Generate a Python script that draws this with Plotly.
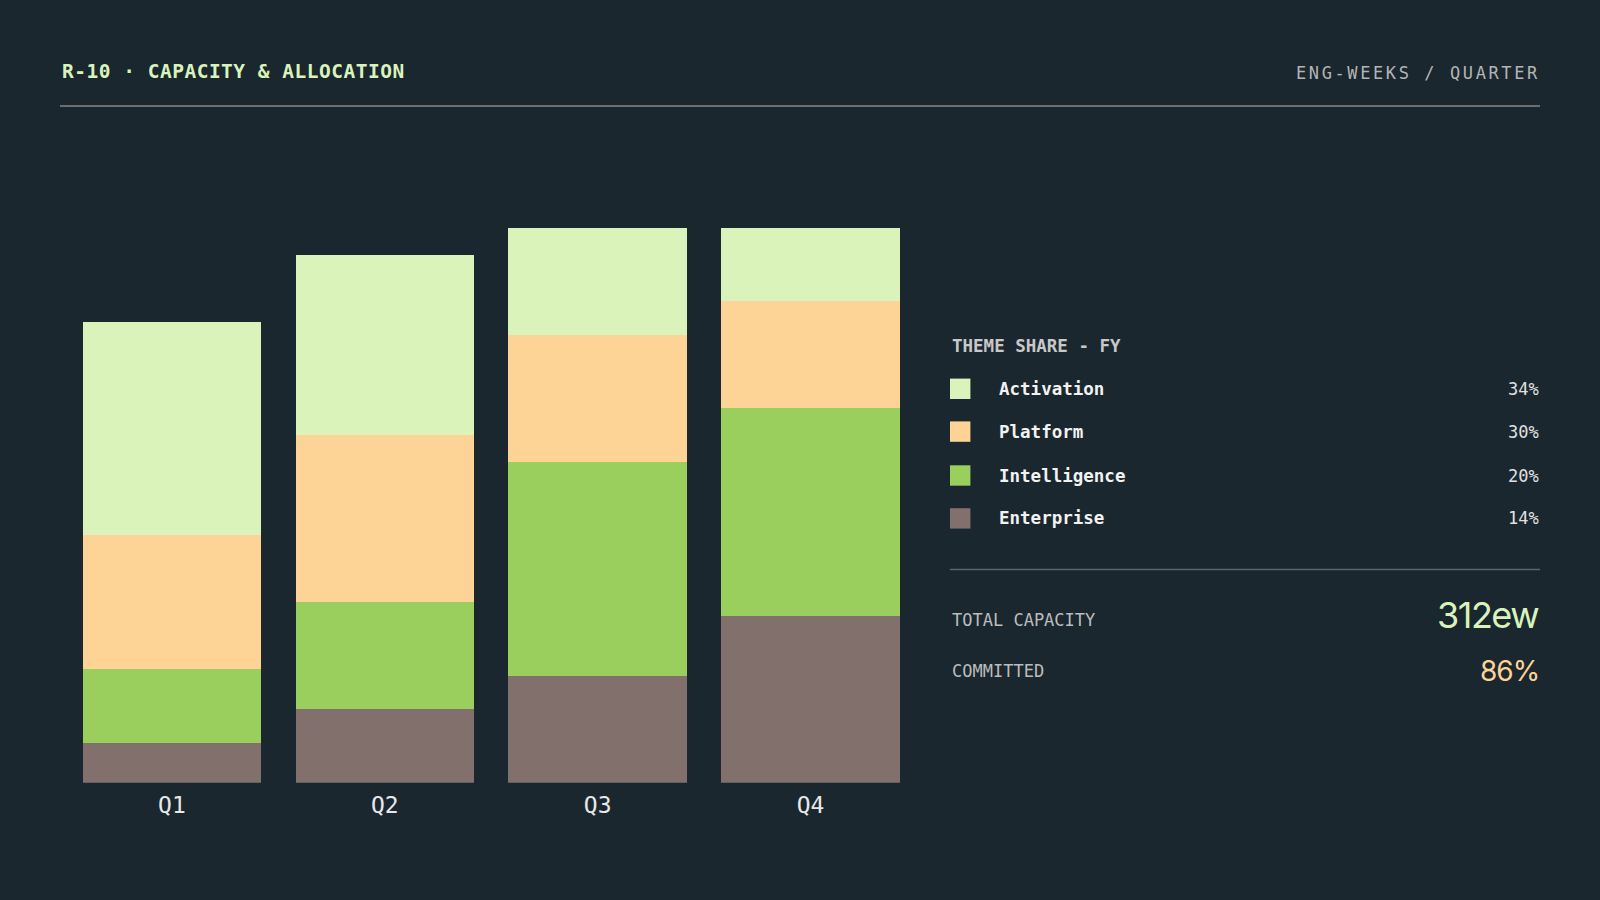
import plotly.graph_objects as go

# data
quarters = ["Q1", "Q2", "Q3", "Q4"]
themes = ["Activation", "Platform", "Intelligence", "Enterprise"]
activation = [32, 27, 16, 11]
platform = [20, 25, 19, 16]
intelligence = [11, 16, 32, 31]
enterprise = [6, 11, 16, 25]
fy_share = [34, 30, 20, 14]
total_capacity = "312ew"
committed = "86%"

colors = {
    "Activation": "#d9f3bb",
    "Platform": "#fed396",
    "Intelligence": "#9bcf5d",
    "Enterprise": "#81706c",
}
series = {
    "Activation": activation,
    "Platform": platform,
    "Intelligence": intelligence,
    "Enterprise": enterprise,
}

W, H = 1600, 900
BG = "#1a272f"
MONO = "DejaVu Sans Mono"


def px(x):
    return x / W


def py(y):
    return 1 - y / H


fig = go.Figure()

# stacked from the bottom up
for name in ["Enterprise", "Intelligence", "Platform", "Activation"]:
    fig.add_trace(go.Bar(
        x=quarters, y=series[name], name=name,
        marker=dict(color=colors[name], line=dict(width=0)),
        hoverinfo="x+y+name",
    ))

fig.update_layout(
    width=W, height=H,
    paper_bgcolor=BG, plot_bgcolor=BG,
    margin=dict(l=0, r=0, t=0, b=0),
    barmode="stack", bargap=0.161,
    showlegend=False,
    xaxis=dict(domain=[px(65.5), px(917)], showgrid=False, zeroline=False,
               showline=False, ticks="", ticklabelstandoff=6,
               tickfont=dict(family=MONO, size=23, color="#e8e8e8")),
    yaxis=dict(domain=[py(782.7), py(114.3)], range=[0, 100], visible=False),
)

shapes = []
ann = []

# header
ann.append(dict(x=px(60), y=py(71.5),
                text='<b><span style="letter-spacing:0.5px">R-10 · CAPACITY & ALLOCATION</span></b>',
                xanchor="left", yanchor="middle",
                font=dict(family=MONO, size=19.5, color="#d9f3bb")))
ann.append(dict(x=px(1542), y=py(72.5),
                text='<span style="letter-spacing:2.6px">ENG-WEEKS / QUARTER</span>',
                xanchor="right", yanchor="middle",
                font=dict(family=MONO, size=17, color="#b4b4b4")))
shapes.append(dict(type="line", x0=px(60), x1=px(1540), y0=py(106), y1=py(106),
                   line=dict(color="#6e6e6e", width=2)))

# side panel legend
ann.append(dict(x=px(950), y=py(346), text="<b>THEME SHARE - FY</b>",
                xanchor="left", yanchor="middle",
                font=dict(family=MONO, size=17.5, color="#c8c8c8")))
row_y = [388.8, 431.6, 475.5, 518.4]
for name, share, yy in zip(themes, fy_share, row_y):
    shapes.append(dict(type="rect", x0=px(950), x1=px(970.4),
                       y0=py(yy - 10.2), y1=py(yy + 10.2),
                       fillcolor=colors[name], line=dict(width=0)))
    ann.append(dict(x=px(997), y=py(yy), text=f"<b>{name}</b>",
                    xanchor="left", yanchor="middle",
                    font=dict(family=MONO, size=17.5, color="#f2f2f2")))
    ann.append(dict(x=px(1541), y=py(yy), text=f"{share}%",
                    xanchor="right", yanchor="middle",
                    font=dict(family=MONO, size=17, color="#e0e0e0")))

shapes.append(dict(type="line", x0=px(950), x1=px(1540), y0=py(569.4), y1=py(569.4),
                   line=dict(color="#5c646b", width=1.5)))

# totals
ann.append(dict(x=px(950), y=py(620.4), text="TOTAL CAPACITY",
                xanchor="left", yanchor="middle",
                font=dict(family=MONO, size=17, color="#bcbcbc")))
ann.append(dict(x=px(1541), y=py(615),
                text='<span style="letter-spacing:-1.5px">' + total_capacity + '</span>',
                xanchor="right", yanchor="middle",
                font=dict(family="Inter", size=36, color="#d9f3bb")))
ann.append(dict(x=px(950), y=py(671.4), text="COMMITTED",
                xanchor="left", yanchor="middle",
                font=dict(family=MONO, size=17, color="#bcbcbc")))
ann.append(dict(x=px(1541), y=py(670.5),
                text='<span style="letter-spacing:-1px">' + committed + '</span>',
                xanchor="right", yanchor="middle",
                font=dict(family="Inter", size=28, color="#fed396")))

for a in ann:
    a.update(xref="paper", yref="paper", showarrow=False)
for s in shapes:
    s.update(xref="paper", yref="paper")

fig.update_layout(shapes=shapes, annotations=ann)

fig.write_html("out.html", config={"displayModeBar": False},
               post_script="document.body.style.margin='0';"
                           "document.body.style.background='" + BG + "';")
